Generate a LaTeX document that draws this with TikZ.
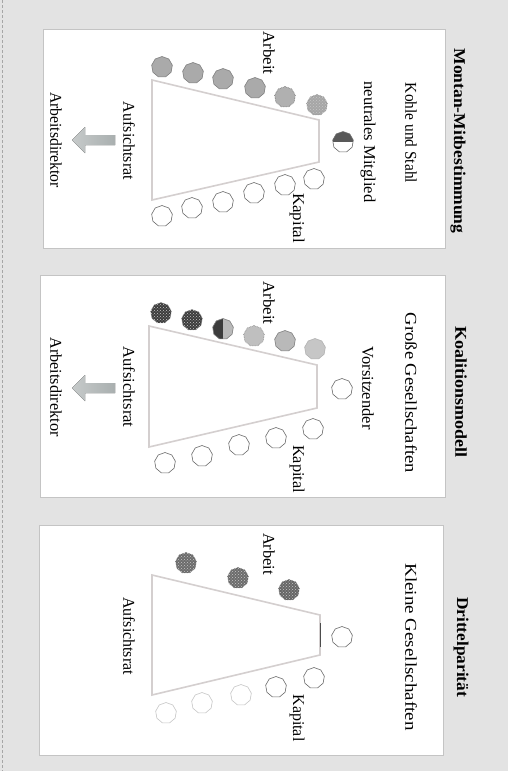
\documentclass[tikz,border=0pt]{standalone}
\usepackage{graphicx}
\usepackage{fontspec}
\setmainfont{Liberation Serif}
\usetikzlibrary{shapes.geometric,patterns}
% stretch a label to a given length, keeping its natural height
\newcommand\fitw[2]{\resizebox{#1}{\height}{#2}}
\definecolor{bggray}{HTML}{E3E3E3}
\definecolor{edgegray}{HTML}{C4C4C4}
\definecolor{tablegray}{HTML}{D4CFCF}
\definecolor{seatgray}{HTML}{AAAAAA}
\definecolor{seatdark}{HTML}{3C3C3C}
\definecolor{seatline}{HTML}{6A6A6A}
\definecolor{arrowA}{HTML}{C6CACA}
\definecolor{arrowB}{HTML}{A9AFAF}
\begin{document}
\begin{tikzpicture}[x=1pt,y=-1pt,
  lbl/.style={rotate=-90,inner sep=0pt,font=\fontsize{16.5}{19}\selectfont},
  ttl/.style={rotate=-90,inner sep=0pt,font=\fontsize{16.5}{19}\selectfont\bfseries},
  panel/.style={fill=white,draw=edgegray,line width=0.5pt},
  board/.style={draw=tablegray,line width=1.6pt,line join=miter},
  seat/.style={regular polygon,regular polygon sides=9,minimum size=21pt,
    inner sep=0pt,draw=seatline,line width=0.6pt,fill=white},
  labour/.style={seat,fill=seatgray,draw=gray},
  speckle/.style={seat,fill=#1,draw=gray,densely dotted,
    postaction={pattern=crosshatch dots,pattern color=white!55!gray}},
  faint/.style={seat,draw=gray!45},
  blockarrow/.style={left color=arrowA,right color=arrowB,draw=none}]
\useasboundingbox (0,0) rectangle (508,771);

% page background and scan edge
\fill[bggray] (0,0) rectangle (508,771);
\draw[gray!70,densely dashed,line width=0.5pt] (2.5,0) -- (2.5,771);

% three panels
\filldraw[panel] (43,29) rectangle (445,248);
\filldraw[panel] (40,275) rectangle (445,497);
\filldraw[panel] (39,525) rectangle (443,755);

% ---------- Montan-Mitbestimmung ----------
\node[ttl] (t1) at (458,141) {\fitw{185pt}{Montan-Mitbestimmung}};
\node[lbl] (s1) at (411,133) {\fitw{100pt}{Kohle und Stahl}};
\node[lbl] (nm1) at (368,142) {\fitw{121pt}{neutrales Mitglied}};
\node[lbl] (ar1) at (269,53) {\fitw{43pt}{Arbeit}};
\node[lbl] (ka1) at (297,218) {\fitw{50pt}{Kapital}};
\node[lbl] (au1) at (129,141) {\fitw{78pt}{Aufsichtsrat}};
\node[lbl] (ad1) at (56,140) {\fitw{96pt}{Arbeitsdirektor}};

\draw[board] (152,80) -- (319,120) -- (319,162) -- (152,200) -- cycle;

\node[labour] (p1a1) at (162,67) {};
\node[labour] (p1a2) at (193,73) {};
\node[labour] (p1a3) at (223,79) {};
\node[labour] (p1a4) at (255,88) {};
\node[labour,fill=gray!62,draw=gray!80!black,densely dotted] (p1a5) at (285,97) {};
\node[speckle=gray!70] (p1a6) at (317,105) {};
\node[seat,path picture={\fill[seatdark!85!white]
  (path picture bounding box.north west) rectangle (path picture bounding box.east);}]
  (p1n) at (343,142) {};
\node[seat] (p1k1) at (314,179) {};
\node[seat] (p1k2) at (285,185) {};
\node[seat] (p1k3) at (254,193) {};
\node[seat] (p1k4) at (223,202) {};
\node[seat] (p1k5) at (192,208) {};
\node[seat] (p1k6) at (162,216) {};

\fill[blockarrow,shift={(72,140)}] (43,-5) -- (13,-5) -- (13,-13) -- (0,0)
  -- (13,13) -- (13,5) -- (43,5) -- cycle;

% ---------- Koalitionsmodell ----------
\node[ttl] (t2) at (461,392) {\fitw{131pt}{Koalitionsmodell}};
\node[lbl] (s2) at (411,393) {\fitw{160pt}{Große Gesellschaften}};
\node[lbl] (vs2) at (368,388) {\fitw{83pt}{Vorsitzender}};
\node[lbl] (ar2) at (269,303) {\fitw{43pt}{Arbeit}};
\node[lbl] (ka2) at (297,469) {\fitw{48pt}{Kapital}};
\node[lbl] (au2) at (129,387) {\fitw{81pt}{Aufsichtsrat}};
\node[lbl] (ad2) at (56,387) {\fitw{99pt}{Arbeitsdirektor}};

\draw[board] (149,326) -- (317,365) -- (317,408) -- (149,447) -- cycle;

\node[speckle=seatdark] (p2a1) at (161,313) {};
\node[speckle=seatdark] (p2a2) at (192,320) {};
\node[seat,fill=gray!55,draw=gray,path picture={\fill[seatdark]
  (path picture bounding box.north west) rectangle (path picture bounding box.south);}]
  (p2a3) at (223,329) {};
\node[labour,fill=gray!50,densely dotted] (p2a4) at (254,336) {};
\node[labour,fill=gray!55] (p2a5) at (285,341) {};
\node[labour,fill=gray!45,draw=gray!60] (p2a6) at (315,349) {};
\node[seat] (p2v) at (342,389) {};
\node[seat] (p2k1) at (313,429) {};
\node[seat] (p2k2) at (276,438) {};
\node[seat] (p2k3) at (239,445) {};
\node[seat] (p2k4) at (202,456) {};
\node[seat] (p2k5) at (165,463) {};

\fill[blockarrow,shift={(72,388)}] (43,-5) -- (13,-5) -- (13,-13) -- (0,0)
  -- (13,13) -- (13,5) -- (43,5) -- cycle;

% ---------- Drittelparitaet ----------
\node[ttl] (t3) at (461,647) {\fitw{100pt}{Drittelparität}};
\node[lbl] (s3) at (411,647) {\fitw{167pt}{Kleine Gesellschaften}};
\node[lbl] (ar3) at (269,554) {\fitw{42pt}{Arbeit}};
\node[lbl] (ka3) at (297,718) {\fitw{47pt}{Kapital}};
\node[lbl] (au3) at (129,636) {\fitw{78pt}{Aufsichtsrat}};

\draw[board] (152,575) -- (320,615) -- (320,655) -- (152,695) -- cycle;
\draw[gray!60!black,line width=0.6pt] (320,623) -- (320,647);

\node[speckle=gray!85!black,draw=gray!70!black] (p3a1) at (186,563) {};
\node[speckle=gray!85!black,draw=gray!70!black] (p3a2) at (238,578) {};
\node[speckle=gray!80!black,draw=gray!70!black] (p3a3) at (289,590) {};
\node[seat] (p3t) at (342,637) {};
\node[seat] (p3k1) at (314,678) {};
\node[seat] (p3k2) at (276,687) {};
\node[faint] (p3k3) at (241,695) {};
\node[faint] (p3k4) at (202,703) {};
\node[faint] (p3k5) at (166,713) {};
\end{tikzpicture}
\end{document}
